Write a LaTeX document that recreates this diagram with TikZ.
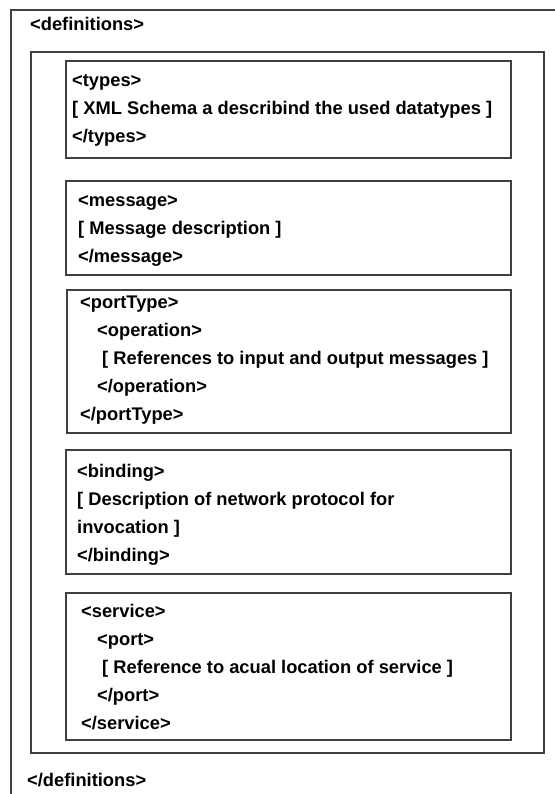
\documentclass[tikz,border=0pt]{standalone}
\usepackage{fontspec}
\setmainfont{Liberation Sans}
\begin{document}
\begin{tikzpicture}[x=1bp,y=-1bp,
  frame/.style={draw=black!75, line width=1.3bp},
  tag/.style={anchor=base west, inner sep=0pt, font=\bfseries\fontsize{18.3bp}{22bp}\selectfont}]
\useasboundingbox (0,0) rectangle (555,794);
\begin{scope}
\clip (0,0) rectangle (555,794);
% outer <definitions> frame, running past the page edges
\draw[frame] (11,10) rectangle (580,820);
\end{scope}
% inner container
\draw[frame] (31,52) rectangle (544,753);
% element boxes
\draw[frame] (66,61) rectangle (511,158);
\draw[frame] (66,181) rectangle (511,275);
\draw[frame] (67,290) rectangle (511,433);
\draw[frame] (66,450) rectangle (511,574);
\draw[frame] (66,593) rectangle (511,740);

\node[tag] (defopen) at (30,31) {<definitions>};

\node[tag] (t1) at (72,86) {<types>};
\node[tag] (t2) at (72,114) {[ XML Schema a describind the used datatypes ]};
\node[tag] (t3) at (72,142) {</types>};

\node[tag] (m1) at (78,206) {<message>};
\node[tag] (m2) at (78,234) {[ Message description ]};
\node[tag] (m3) at (78,262) {</message>};

\node[tag] (p1) at (80,308) {<portType>};
\node[tag] (p2) at (97,336) {<operation>};
\node[tag] (p3) at (102,364) {[ References to input and output messages ]};
\node[tag] (p4) at (97,392) {</operation>};
\node[tag] (p5) at (80,420) {</portType>};

\node[tag] (b1) at (77,477) {<binding>};
\node[tag] (b2) at (77,505) {[ Description of network protocol for};
\node[tag] (b3) at (77,533) {invocation ]};
\node[tag] (b4) at (77,561) {</binding>};

\node[tag] (s1) at (81,617) {<service>};
\node[tag] (s2) at (97,645) {<port>};
\node[tag] (s3) at (102,673) {[ Reference to acual location of service ]};
\node[tag] (s4) at (97,701) {</port>};
\node[tag] (s5) at (81,729) {</service>};

\node[tag] (defclose) at (27,786) {</definitions>};
\end{tikzpicture}
\end{document}
